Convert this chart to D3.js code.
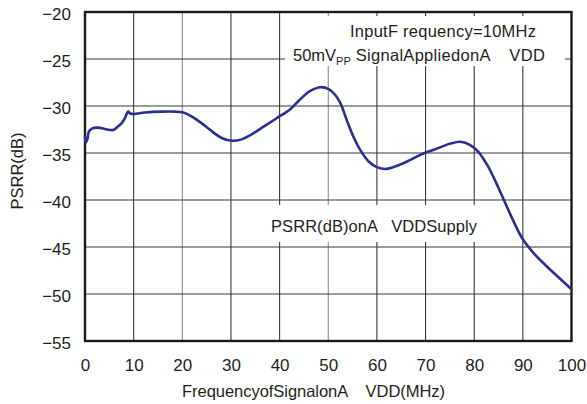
<!DOCTYPE html>
<html>
<head>
<meta charset="utf-8">
<script src="https://cdn.jsdelivr.net/npm/d3@7"></script>
<style>
  body { margin: 0; background: #fff; }
  svg text { font-family: "Liberation Sans", Arial, sans-serif; fill: #231f20; }
</style>
</head>
<body>
<div id="chart"></div>
<script>
const width = 587
const height = 404

// data
const freq = [0, 0.2, 0.55, 0.8, 1.4, 2.7, 4.1, 5.8, 6.5, 7.5, 8.2, 8.6, 8.9, 9.3, 10, 12.3, 15.8, 18.5, 20.2, 21.9, 24, 26.1, 28.1, 30.2, 32.2, 34, 36.7, 39.4, 42.2, 44.2, 46.3, 48.4, 50.1, 51.4, 52.5, 53.8, 55.2, 56.6, 58.3, 60, 61.7, 63.4, 66.2, 68.9, 70.3, 73, 75.1, 77.2, 79.2, 80.9, 82.7, 84.4, 86.1, 87.8, 89.9, 92.3, 95, 97.7, 100]
const psrr = [-33.2, -33.9, -33.4, -32.7, -32.4, -32.3, -32.45, -32.55, -32.3, -31.85, -31.3, -30.8, -30.6, -30.8, -30.85, -30.7, -30.6, -30.6, -30.7, -31.1, -31.85, -32.7, -33.4, -33.7, -33.55, -33.1, -32.2, -31.3, -30.35, -29.3, -28.4, -28.0, -28.2, -28.8, -29.7, -31.5, -33.3, -34.7, -35.9, -36.5, -36.7, -36.5, -35.9, -35.2, -34.9, -34.4, -34.0, -33.8, -34.15, -34.9, -36.3, -38.05, -40, -41.95, -44.1, -45.7, -47.1, -48.4, -49.5]

const xTicks = [0, 10, 20, 30, 40, 50, 60, 70, 80, 90, 100]
const yTicks = [-20, -25, -30, -35, -40, -45, -50, -55]

const margin = {top: 12, right: 15.5, bottom: 63, left: 85}
const w = width - margin.left - margin.right
const h = height - margin.top - margin.bottom

let svg = d3.select("#chart")
            .append("svg")
            .attr("width", width)
            .attr("height", height)

let g = svg.append("g")
           .attr("transform", "translate(" + margin.left + "," + margin.top + ")")

let x = d3.scaleLinear().domain([0, 100]).range([0, w])
let y = d3.scaleLinear().domain([-55, -20]).range([h, 0])

// grid
g.append("g")
 .selectAll("line")
 .data(xTicks.slice(1, -1))
 .enter()
 .append("line")
 .attr("x1", d => x(d)).attr("x2", d => x(d))
 .attr("y1", 0).attr("y2", h)
 .attr("stroke", d => (d == 20 || d == 50) ? "#8a8a8a" : "#3a3a3a")
 .attr("stroke-width", 1.1)

g.append("g")
 .selectAll("line")
 .data(yTicks.slice(1, -1))
 .enter()
 .append("line")
 .attr("x1", 0).attr("x2", w)
 .attr("y1", d => y(d)).attr("y2", d => y(d))
 .attr("stroke", "#3a3a3a")
 .attr("stroke-width", 1.1)

// white boxes behind the notes
g.append("rect")
 .attr("x", 200).attr("y", 4).attr("width", 280).attr("height", 50)
 .attr("fill", "#fff")
g.append("rect")
 .attr("x", 177).attr("y", 193).attr("width", 230).attr("height", 37)
 .attr("fill", "#fff")

// frame
g.append("rect")
 .attr("width", w).attr("height", h)
 .attr("fill", "none")
 .attr("stroke", "#1a1a1a")
 .attr("stroke-width", 2.4)

// tick labels
let xAxis = d3.axisBottom(x).tickValues(xTicks).tickSize(0).tickPadding(18)
g.append("g")
 .attr("transform", "translate(0," + h + ")")
 .call(xAxis)
 .call(a => a.select(".domain").remove())
 .selectAll("text")
 .attr("font-size", 17)
 .attr("font-family", "Liberation Sans, Arial, sans-serif")
 .attr("fill", "#231f20")

let yAxis = d3.axisLeft(y).tickValues(yTicks).tickSize(0).tickPadding(14)
  .tickFormat(d => "\u2212" + Math.abs(d))
g.append("g")
 .call(yAxis)
 .call(a => a.select(".domain").remove())
 .selectAll("text")
 .attr("font-size", 17)
 .attr("dy", "0.42em")
 .attr("font-family", "Liberation Sans, Arial, sans-serif")
 .attr("fill", "#231f20")

// curve
let line = d3.line()
  .x((d, i) => x(freq[i]))
  .y(d => y(d))
  .curve(d3.curveCatmullRom.alpha(0.5))

g.append("path")
 .datum(psrr)
 .attr("d", line)
 .attr("fill", "none")
 .attr("stroke", "#2b3091")
 .attr("stroke-width", 2.6)
 .attr("stroke-linejoin", "round")

// notes
svg.append("text")
   .attr("x", 350).attr("y", 37)
   .attr("font-size", 16.5)
   .attr("textLength", 186)
   .text("InputF requency=10MHz")

let t2 = svg.append("text")
   .attr("x", 293).attr("y", 61)
   .attr("font-size", 16.5)
   .style("white-space", "pre")
t2.append("tspan").text("50mV")
t2.append("tspan").attr("font-size", 11).attr("dy", 4).text("PP")
t2.append("tspan").attr("dy", -4).attr("textLength", 194).text(" SignalAppliedonA    VDD")

svg.append("text")
   .attr("x", 271).attr("y", 232)
   .attr("font-size", 16.5)
   .attr("textLength", 206)
   .style("white-space", "pre")
   .text("PSRR(dB)onA   VDDSupply")

// axis titles
svg.append("text")
   .attr("x", 182).attr("y", 397)
   .attr("font-size", 16.5)
   .attr("textLength", 263)
   .style("white-space", "pre")
   .text("FrequencyofSignalonA    VDD(MHz)")

svg.append("text")
   .attr("transform", "translate(23,171) rotate(-90)")
   .attr("text-anchor", "middle")
   .attr("font-size", 16.5)
   .text("PSRR(dB)")
</script>
</body>
</html>
